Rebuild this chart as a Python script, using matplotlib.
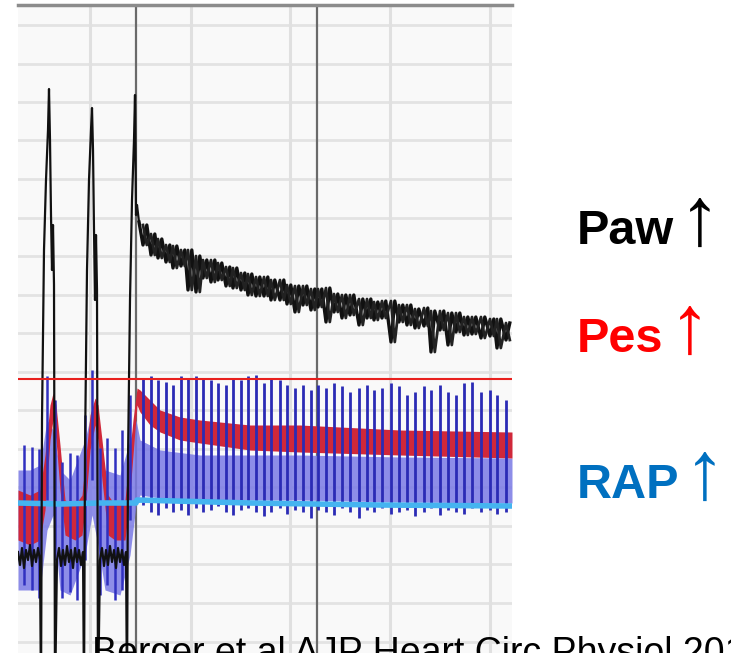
import numpy as np
import matplotlib
matplotlib.use("Agg")
import matplotlib.pyplot as plt

W, H = 731, 653
plt.rcParams['font.family'] = ['Liberation Sans', 'DejaVu Sans']

# ---------------- data (time in px-units, pressure in screen units, inverted axis) ---------------
hgrid = [25, 64, 102, 140, 179, 218, 256, 295, 333, 372, 410, 449, 487, 526, 564, 603, 642]
vgrid = [90, 191, 290, 390, 490]
cursors = [136, 317]
ref_level = 379

# airway pressure, first segment (three insufflations)
paw1_x = [18, 20, 22, 24, 26, 28, 30, 32, 34, 36, 38, 40, 41, 42, 44, 46, 48, 49, 50, 51, 52, 53, 54, 55,
          57, 59, 61, 63, 65, 67, 69, 71, 73, 75, 77, 79, 81, 83, 84, 85, 87, 89, 91, 92, 93, 94, 95, 96, 97, 98,
          100, 102, 104, 106, 108, 110, 112, 114, 116, 118, 120, 122, 124, 126, 127, 128, 130, 132, 134, 135,
          136, 137, 139]
paw1_y = [552, 565, 548, 568, 550, 560, 545, 566, 550, 562, 548, 560, 700, 420, 250, 180, 130, 89, 140, 215, 270, 225, 285, 700,
          560, 548, 566, 550, 565, 546, 562, 550, 568, 548, 562, 550, 565, 552, 700, 450, 270, 180, 130, 108, 150, 230, 300, 235, 290, 700,
          560, 548, 566, 550, 565, 546, 562, 550, 568, 548, 562, 550, 565, 552, 700, 460, 300, 200, 140, 95,
          215, 205, 222]

# cardiac beats after the last insufflation
beat_x = [143, 151, 158, 166, 173, 181, 188, 196, 203, 211, 218, 226, 233, 241, 248, 256, 264, 271, 280, 287,
          295, 303, 311, 318, 326, 334, 342, 350, 359, 367, 374, 382, 391, 399, 407, 415, 424, 431, 440, 448,
          456, 464, 472, 481, 490, 497, 506]
paw_hi = [225, 234, 239, 245, 246, 250, 250, 256, 260, 260, 263, 267, 268, 273, 274, 277, 277, 280, 280, 285,
          286, 286, 289, 289, 288, 294, 295, 295, 299, 299, 302, 301, 301, 305, 305, 309, 308, 311, 311, 313,
          313, 317, 317, 317, 319, 319, 323]
paw_lo = [245, 255, 258, 262, 268, 266, 290, 292, 278, 282, 280, 286, 288, 290, 295, 296, 296, 300, 300, 304,
          312, 305, 310, 307, 322, 312, 318, 315, 325, 318, 320, 318, 342, 322, 325, 328, 326, 352, 330, 345,
          332, 335, 334, 338, 336, 348, 340]
rap_top = [378, 376, 380, 382, 385, 376, 378, 376, 378, 380, 383, 385, 378, 380, 376, 375, 383, 378, 380, 385,
           388, 385, 390, 385, 388, 383, 386, 392, 388, 385, 390, 388, 383, 386, 395, 392, 386, 390, 385, 392,
           395, 383, 382, 392, 390, 395, 400]
rap_bot = [505, 512, 515, 508, 512, 510, 515, 508, 512, 510, 506, 512, 515, 510, 508, 512, 516, 512, 508, 514,
           510, 512, 518, 510, 512, 515, 508, 512, 518, 510, 512, 508, 514, 512, 510, 516, 512, 508, 515, 510,
           512, 514, 508, 512, 510, 514, 512]

# cardiac beats during the insufflation phase
pre_x = [24, 32, 39, 47, 55, 62, 70, 77, 85, 92, 100, 107, 115, 122, 130]
pre_top = [445, 447, 449, 376, 400, 462, 453, 455, 415, 370, 448, 438, 448, 430, 395]
pre_bot = [585, 590, 598, 500, 560, 598, 592, 600, 560, 480, 595, 585, 600, 590, 520]

# esophageal pressure envelope
pes_x = [18, 30, 40, 45, 50, 53, 56, 60, 65, 75, 82, 86, 90, 95, 98, 102, 108, 115, 125, 129, 133, 137, 140,
         150, 160, 180, 200, 250, 300, 400, 512]
pes_top = [490, 495, 490, 455, 405, 393, 405, 445, 500, 505, 495, 455, 415, 398, 405, 440, 495, 505, 500, 460,
           420, 388, 390, 400, 410, 417, 420, 425, 425, 430, 432]
pes_bot = [540, 545, 540, 510, 440, 420, 440, 490, 535, 540, 535, 500, 450, 425, 440, 480, 535, 540, 540, 505,
           455, 405, 412, 425, 432, 440, 443, 450, 452, 455, 458]

# light (diastolic) RAP band
band_x = [18, 30, 40, 47, 53, 60, 70, 85, 92, 98, 105, 120, 130, 136, 140, 160, 200, 300, 400, 512]
band_top = [470, 470, 465, 420, 430, 470, 480, 440, 410, 430, 470, 475, 440, 420, 440, 450, 455, 455, 457, 458]
band_bot = [590, 590, 590, 530, 515, 590, 595, 555, 515, 545, 590, 595, 555, 505, 495, 498, 500, 500, 502, 503]

# cyan reference trace
cyan_x = [18, 60, 100, 136, 137, 250, 380, 512]
cyan_y = [503, 504, 503, 503, 500, 503, 505, 506]

labels = ["Paw", "Pes", "RAP"]
label_colors = ["#000000", "#ff0000", "#0070c0"]
label_base = [244, 352, 498]
arrow_x = [679, 669, 684]
citation = "Berger et al AJP Heart Circ Physiol 2016"

# ---------------- drawing ----------------
fig = plt.figure(figsize=(W / 100, H / 100), dpi=100)
fig.patch.set_facecolor("white")
ax = fig.add_axes([18 / W, 0, (512 - 18) / W, 1 - 5 / H])
ax.set_facecolor("#f9f9f9")
ax.set_xlim(18, 512)
ax.set_ylim(653, 5)
for s in ["left", "right", "bottom"]:
    ax.spines[s].set_visible(False)
ax.spines["top"].set_color("#8c8c8c")
ax.spines["top"].set_linewidth(2.5)
ax.set_xticks([])
ax.set_yticks([])

for y in hgrid:
    ax.axhline(y, color="#e3e3e3", lw=2.0, zorder=1)
for x in vgrid:
    ax.axvline(x, color="#e0e0e0", lw=2.2, zorder=1)
for x in cursors:
    ax.axvline(x, color="#6a6a6a", lw=1.6, zorder=2)

ax.fill_between(band_x, band_top, band_bot, color="#7a7ae6", alpha=0.85, lw=0, zorder=3)
ax.fill_between(pes_x, pes_top, pes_bot, color="#d0283a", lw=0, zorder=4)
ax.vlines(pre_x, pre_top, pre_bot, color="#3030c0", lw=1.8, zorder=5)
ax.vlines(beat_x, rap_top, rap_bot, color="#2b2bb5", lw=2.0, zorder=5)
ax.plot(cyan_x, cyan_y, color="#45b4f0", lw=4, zorder=6, solid_capstyle="butt")

ax.plot(paw1_x, paw1_y, color="#111111", lw=1.6, zorder=7)
bx = np.asarray(beat_x, dtype=float)
zx = np.column_stack([bx, bx + 3.8]).ravel()
zy1 = np.column_stack([paw_lo, paw_hi]).ravel()
zy2 = np.column_stack([paw_hi, paw_lo]).ravel()
ax.plot(np.r_[paw1_x[-1], zx], np.r_[paw1_y[-1], zy1], color="#111111", lw=2.4, zorder=7)
ax.plot(zx, zy2, color="#222222", lw=2.0, zorder=7)

ax.axhline(ref_level, color="#e8201e", lw=1.5, zorder=8)

for lab, col, yb, axx in zip(labels, label_colors, label_base, arrow_x):
    fig.text(577 / W, 1 - yb / H, lab, color=col, fontsize=35, fontweight="bold",
             ha="left", va="baseline")
    fig.text(axx / W, 1 - (yb + 1) / H, "\u2191", color=col, fontsize=60,
             ha="left", va="baseline")

fig.text(92 / W, 1 - 664 / H, citation, color="black", fontsize=27, ha="left", va="baseline")

fig.savefig("out.png", dpi=100)
